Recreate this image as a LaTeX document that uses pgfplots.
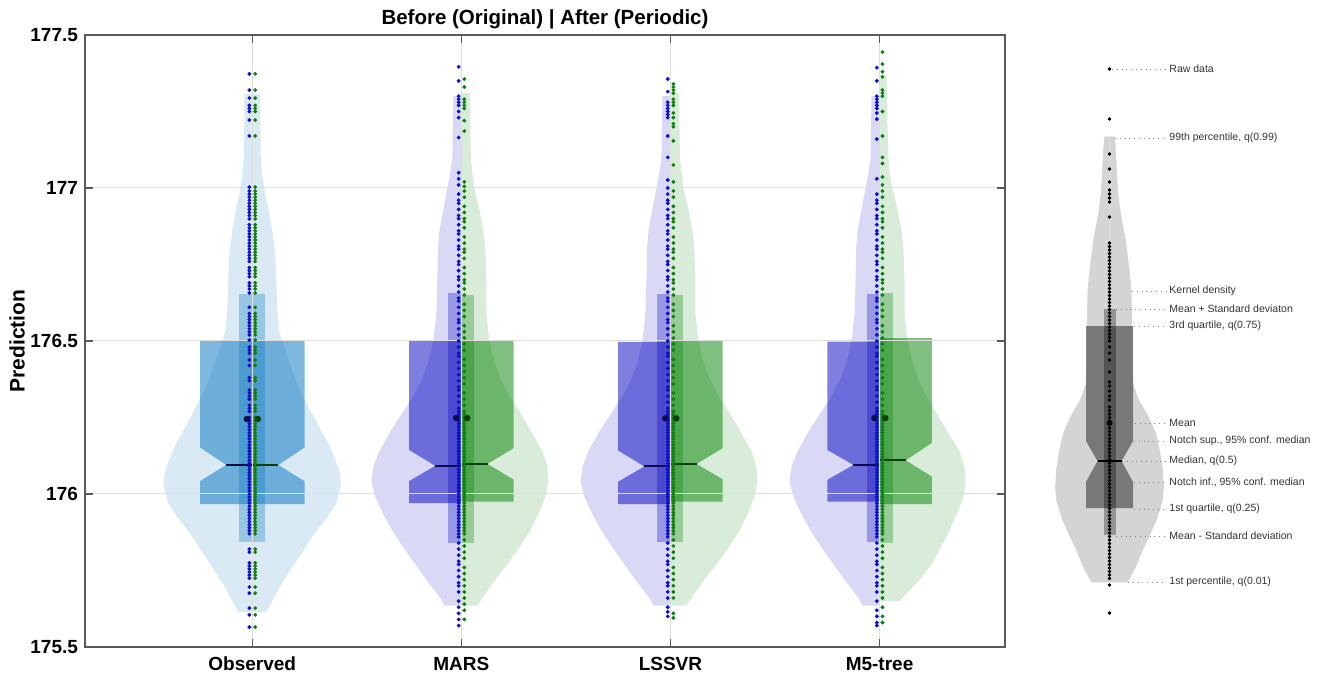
\documentclass[border=0pt]{standalone}
\usepackage{fontspec}
\setmainfont{Liberation Sans}
\usepackage{pgfplots}
\usepackage{pgfplotstable}
\pgfplotsset{compat=1.18}
\definecolor{mblue}{rgb}{0,0.447,0.741}
\definecolor{vblue}{rgb}{0,0,0.75}
\definecolor{vgreen}{rgb}{0,0.5,0}
\definecolor{dblue}{rgb}{0.05,0.05,0.8}
\definecolor{dgreen}{rgb}{0.05,0.5,0.05}
\definecolor{mnblue}{rgb}{0.05,0.05,0.3}
\definecolor{mngreen}{rgb}{0.05,0.25,0.05}

% ---------- violin profiles (y, half width in px) ----------
\pgfplotstableread[row sep=\\]{
y w\\
175.614 0\\ 175.614 14\\ 175.65 20\\ 175.70 28\\ 175.76 40\\ 175.82 52\\ 175.87 62\\ 175.92 74\\
175.97 84\\ 176.03 89\\ 176.08 87\\ 176.12 82\\ 176.16 77\\ 176.20 70\\ 176.25 62\\ 176.31 52\\
176.36 45\\ 176.42 38\\ 176.48 32\\ 176.53 27\\ 176.60 25\\ 176.70 24\\ 176.78 23\\ 176.86 20\\
176.92 17\\ 176.98 13\\ 177.04 10\\ 177.10 8.5\\ 177.20 8\\ 177.307 8\\ 177.307 0\\
}\obsV
\pgfplotstableread[row sep=\\]{
y w\\
175.635 0\\ 175.635 17\\ 175.66 21\\ 175.72 35\\ 175.77 46\\ 175.83 59\\ 175.88 69\\ 175.94 79\\
175.99 86\\ 176.04 90\\ 176.09 88\\ 176.14 82\\ 176.21 70\\ 176.27 58\\ 176.32 48\\ 176.37 40\\
176.43 33\\ 176.50 28\\ 176.59 25\\ 176.70 24\\ 176.80 23.5\\ 176.86 22\\ 176.93 18\\ 177.00 14\\
177.05 11\\ 177.10 9\\ 177.20 8.5\\ 177.30 8\\ 177.30 0\\
}\blueV
\pgfplotstableread[row sep=\\]{
y w\\
175.635 0\\ 175.635 16\\ 175.66 21\\ 175.72 34\\ 175.77 46\\ 175.83 59\\ 175.88 69\\ 175.94 78\\
175.99 84\\ 176.04 87\\ 176.09 86\\ 176.14 81\\ 176.21 69\\ 176.27 58\\ 176.32 48\\ 176.37 40\\
176.43 33\\ 176.50 28\\ 176.59 25\\ 176.70 25\\ 176.80 24\\ 176.86 22\\ 176.93 18\\ 177.00 13\\
177.05 11\\ 177.10 9.5\\ 177.20 9\\ 177.31 9\\ 177.31 0\\
}\greenV
\pgfplotstableread[row sep=\\]{
y w\\
175.65 0\\ 175.65 20\\ 175.72 40\\ 175.77 52\\ 175.83 62\\ 175.88 70\\ 175.94 78\\
175.99 84\\ 176.04 86\\ 176.09 85\\ 176.14 80\\ 176.21 67\\ 176.27 56\\ 176.32 47\\ 176.37 39\\
176.43 33\\ 176.50 28\\ 176.59 25\\ 176.70 25\\ 176.80 24\\ 176.86 22\\ 176.93 18\\ 177.00 13\\
177.05 10\\ 177.10 9\\ 177.20 8\\ 177.37 7\\ 177.37 0\\
}\greenVm
% ---------- raw data ----------
\pgfplotstableread[row sep=\\]{
y\\ 177.373\\ 177.320\\ 177.294\\ 177.270\\ 177.260\\ 177.250\\ 177.222\\ 177.170\\
177.003\\ 176.99\\ 176.98\\ 176.97\\ 176.96\\ 176.95\\ 176.94\\ 176.93\\ 176.92\\ 176.91\\ 176.899\\
176.88\\ 176.87\\ 176.86\\ 176.85\\ 176.84\\ 176.83\\ 176.82\\ 176.81\\ 176.80\\ 176.79\\ 176.78\\ 176.77\\ 176.76\\
176.74\\ 176.73\\ 176.72\\ 176.71\\ 176.69\\ 176.68\\ 176.67\\ 176.657\\
176.61\\ 176.59\\ 176.58\\ 176.57\\ 176.56\\ 176.55\\ 176.54\\ 176.53\\ 176.52\\ 176.503\\ 176.48\\ 176.47\\
176.46\\ 176.438\\ 176.42\\ 176.38\\ 176.37\\ 176.34\\ 176.33\\ 176.32\\ 176.31\\ 176.29\\ 176.28\\ 176.27\\
176.25\\ 176.24\\ 176.23\\ 176.22\\ 176.21\\ 176.20\\ 176.19\\ 176.18\\ 176.17\\ 176.16\\ 176.15\\ 176.14\\
176.13\\ 176.12\\ 176.11\\ 176.10\\ 176.09\\ 176.08\\ 176.07\\ 176.06\\ 176.05\\ 176.04\\ 176.03\\ 176.02\\
176.01\\ 176.00\\ 175.99\\ 175.98\\ 175.97\\ 175.96\\ 175.95\\ 175.94\\ 175.93\\ 175.92\\ 175.91\\ 175.90\\
175.89\\ 175.88\\ 175.87\\ 175.82\\ 175.81\\ 175.775\\ 175.765\\ 175.755\\ 175.745\\ 175.735\\ 175.725\\
175.696\\ 175.676\\ 175.627\\ 175.605\\ 175.565\\
}\obsD
\pgfplotstableread[row sep=\\]{
y\\ 176.98\\ 176.96\\ 176.95\\ 176.93\\ 176.91\\ 176.90\\ 176.88\\ 176.86\\ 176.85\\ 176.83\\ 176.81\\ 176.80\\
176.78\\ 176.76\\ 176.75\\ 176.73\\ 176.71\\ 176.70\\ 176.68\\ 176.66\\ 176.64\\ 176.63\\ 176.61\\ 176.59\\
176.57\\ 176.56\\ 176.54\\ 176.52\\ 176.50\\ 176.48\\ 176.46\\ 176.45\\ 176.43\\ 176.41\\ 176.39\\ 176.37\\
176.35\\ 176.34\\ 176.32\\ 176.30\\ 176.28\\ 176.27\\ 176.26\\
176.25\\ 176.24\\ 176.23\\ 176.22\\ 176.21\\ 176.20\\ 176.19\\ 176.18\\ 176.17\\ 176.16\\ 176.15\\ 176.14\\
176.13\\ 176.12\\ 176.11\\ 176.10\\ 176.09\\ 176.08\\ 176.07\\ 176.06\\ 176.05\\ 176.04\\ 176.03\\ 176.02\\
176.01\\ 176.00\\ 175.99\\ 175.98\\ 175.97\\ 175.96\\ 175.95\\ 175.94\\ 175.93\\ 175.92\\ 175.91\\ 175.90\\
175.89\\ 175.88\\ 175.87\\ 175.86\\ 175.84\\ 175.82\\ 175.80\\ 175.78\\ 175.77\\ 175.75\\ 175.73\\ 175.71\\
175.70\\ 175.68\\
}\blueB
\pgfplotstableread[row sep=\\]{
y\\ 176.99\\ 176.97\\ 176.94\\ 176.92\\ 176.90\\ 176.89\\ 176.87\\ 176.84\\ 176.82\\ 176.80\\ 176.79\\ 176.77\\
176.74\\ 176.72\\ 176.70\\ 176.69\\ 176.67\\ 176.65\\ 176.62\\ 176.60\\ 176.58\\ 176.55\\ 176.53\\ 176.51\\
176.49\\ 176.47\\ 176.44\\ 176.42\\ 176.40\\ 176.38\\ 176.36\\ 176.33\\ 176.31\\ 176.29\\ 176.27\\
176.26\\ 176.25\\ 176.24\\ 176.23\\ 176.22\\ 176.21\\ 176.20\\ 176.19\\ 176.18\\ 176.17\\ 176.16\\ 176.15\\
176.14\\ 176.13\\ 176.12\\ 176.11\\ 176.10\\ 176.09\\ 176.08\\ 176.07\\ 176.06\\ 176.05\\ 176.04\\ 176.03\\
176.02\\ 176.01\\ 176.00\\ 175.99\\ 175.98\\ 175.97\\ 175.96\\ 175.95\\ 175.94\\ 175.93\\ 175.92\\ 175.91\\
175.90\\ 175.89\\ 175.88\\ 175.87\\ 175.85\\ 175.83\\ 175.81\\ 175.79\\ 175.76\\ 175.74\\ 175.72\\ 175.70\\
175.68\\
}\greenB
\pgfplotstableread[row sep=\\]{y\\ 177.396\\ 177.35\\ 177.30\\ 177.29\\ 177.28\\ 177.27\\ 177.25\\ 177.23\\ 177.165\\ 177.05\\ 177.03\\ 177.01\\ 175.65\\ 175.63\\ 175.61\\ 175.59\\ 175.57\\}\marsB
\pgfplotstableread[row sep=\\]{y\\ 177.356\\ 177.33\\ 177.29\\ 177.28\\ 177.27\\ 177.26\\ 177.22\\ 177.186\\ 177.02\\ 177.005\\ 175.66\\ 175.64\\ 175.62\\ 175.59\\}\marsG
\pgfplotstableread[row sep=\\]{y\\ 177.356\\ 177.315\\ 177.28\\ 177.27\\ 177.26\\ 177.25\\ 177.24\\ 177.23\\ 177.17\\ 177.10\\ 177.026\\ 177.0\\ 175.66\\ 175.63\\ 175.615\\ 175.60\\}\lssB
\pgfplotstableread[row sep=\\]{y\\ 177.34\\ 177.33\\ 177.32\\ 177.31\\ 177.29\\ 177.28\\ 177.27\\ 177.245\\ 177.23\\ 177.21\\ 177.20\\ 177.154\\ 177.075\\ 177.02\\ 175.66\\ 175.61\\ 175.595\\}\lssG
\pgfplotstableread[row sep=\\]{y\\ 177.393\\ 177.35\\ 177.30\\ 177.29\\ 177.28\\ 177.27\\ 177.26\\ 177.245\\ 177.225\\ 177.16\\ 177.03\\ 175.65\\ 175.62\\ 175.60\\ 175.58\\ 175.57\\}\mfB
\pgfplotstableread[row sep=\\]{y\\ 177.444\\ 177.405\\ 177.38\\ 177.363\\ 177.32\\ 177.31\\ 177.30\\ 177.25\\ 177.17\\ 177.10\\ 177.08\\ 177.036\\ 177.01\\ 175.66\\ 175.63\\ 175.60\\ 175.58\\}\mfG
% ---------- legend panel (pixel units) ----------
\pgfplotstableread[row sep=\\]{
y w\\
582 0\\ 582 18\\ 567 26\\ 550 33\\ 533 41\\ 517 48\\ 500 53\\ 487 54\\ 470 53\\ 450 50\\ 433 46\\ 417 39\\
400 29\\ 383 23\\ 360 22.5\\ 330 22.5\\ 307 22\\ 290 21.5\\ 273 20\\ 257 18\\ 240 16\\ 225 13\\ 207 10\\
190 8\\ 170 7\\ 150 6\\ 137 5\\ 137 0\\
}\panV
\pgfplotstableread[row sep=\\]{
y\\ 69\\ 119\\ 154\\ 169\\ 182\\ 190\\ 194\\ 198\\ 202\\ 217\\ 243\\ 246.5\\ 250\\ 253.5\\ 257\\ 260.5\\ 264\\
267.5\\ 271\\ 274.5\\ 278\\ 281.5\\ 285\\ 288.5\\ 292\\ 295.5\\ 299\\ 302.5\\ 306\\ 309.5\\ 313\\ 316.5\\ 320\\
323.5\\ 327\\ 330.5\\ 334\\ 337.5\\ 341\\ 347\\ 353\\ 360\\ 372\\ 382\\ 386\\ 391\\ 396\\ 400\\ 407\\ 410.5\\
414\\ 417.5\\ 421\\ 424.5\\ 428\\ 431.5\\ 435\\ 438.5\\ 442\\ 445.5\\ 449\\ 452.5\\ 456\\ 459.5\\ 463\\ 466.5\\
470\\ 473.5\\ 477\\ 480.5\\ 484\\ 487.5\\ 491\\ 494.5\\ 498\\ 501.5\\ 505\\ 508.5\\ 512\\ 515.5\\ 519\\ 522.5\\
526\\ 529.5\\ 533\\ 536.5\\ 540\\ 543.5\\ 547\\ 550.5\\ 554\\ 557.5\\ 561\\ 564.5\\ 568\\ 571.5\\ 575\\ 578.5\\
585\\ 613\\
}\panD

\begin{document}
\begin{tikzpicture}
\path[use as bounding box] (-42.5pt,-15.5pt) rectangle (617.5pt,323.5pt);
\begin{axis}[
  at={(0pt,0pt)}, anchor=south west,
  scale only axis, width=460pt, height=306pt,
  xmin=0.2, xmax=4.6, ymin=175.5, ymax=177.5,
  xtick={1,2,3,4}, xticklabels={Observed,MARS,LSSVR,M5-tree},
  ytick={175.5,176,176.5,177,177.5},
  grid=major, major grid style={black!13, line width=0.5pt},
  axis on top,
  axis line style={black!65, line width=0.6pt},
  tick style={black!65, line width=0.6pt},
  major tick length=4pt, tick align=inside,
  /pgf/number format/assume math mode=true,
  ticklabel style={font=\bfseries\fontsize{9.5}{11}\selectfont},
  xticklabel style={anchor=base, yshift=-12pt},
  every axis title shift=0pt,
  title={Before (Original) | After (Periodic)},
  title style={at={(0.5,1)}, anchor=base, yshift=5pt, inner sep=0pt, font=\bfseries\fontsize{10.25}{12}\selectfont},
  ylabel={Prediction},
  ylabel style={at={(axis description cs:-0.0739,0.5)}, anchor=center, font=\bfseries\fontsize{10.5}{12}\selectfont},
]
% violins
\addplot[draw=none, fill=mblue, fill opacity=0.15] table[x expr={1-\thisrow{w}/209.1}, y=y] {\obsV};
\addplot[draw=none, fill=mblue, fill opacity=0.15] table[x expr={1+\thisrow{w}/209.1}, y=y] {\obsV};
\addplot[draw=none, fill=vblue, fill opacity=0.15] table[x expr={2-\thisrow{w}/209.1}, y=y] {\blueV};
\addplot[draw=none, fill=vgreen, fill opacity=0.15] table[x expr={2+\thisrow{w}/209.1}, y=y] {\greenV};
\addplot[draw=none, fill=vblue, fill opacity=0.15] table[x expr={3-\thisrow{w}/209.1}, y=y] {\blueV};
\addplot[draw=none, fill=vgreen, fill opacity=0.15] table[x expr={3+\thisrow{w}/209.1}, y=y] {\greenV};
\addplot[draw=none, fill=vblue, fill opacity=0.15] table[x expr={4-\thisrow{w}/209.1}, y=y] {\blueV};
\addplot[draw=none, fill=vgreen, fill opacity=0.15] table[x expr={4+\thisrow{w}/209.1}, y=y] {\greenVm};
% notched boxes
\addplot[draw=none, fill=mblue, fill opacity=0.5] coordinates {(0.75,175.967) (1.25,175.967) (1.25,176.042) (1.125,176.095) (1.25,176.152) (1.25,176.503) (0.75,176.503) (0.75,176.152) (0.875,176.095) (0.75,176.042)};
\addplot[draw=none, fill=vblue, fill opacity=0.5] coordinates {(2,175.970) (1.75,175.970) (1.75,176.042) (1.875,176.092) (1.75,176.144) (1.75,176.503) (2,176.503)};
\addplot[draw=none, fill=vgreen, fill opacity=0.5] coordinates {(2,175.975) (2.25,175.975) (2.25,176.047) (2.125,176.098) (2.25,176.150) (2.25,176.503) (2,176.503)};
\addplot[draw=none, fill=vblue, fill opacity=0.5] coordinates {(3,175.967) (2.75,175.967) (2.75,176.040) (2.875,176.090) (2.75,176.142) (2.75,176.497) (3,176.497)};
\addplot[draw=none, fill=vgreen, fill opacity=0.5] coordinates {(3,175.975) (3.25,175.975) (3.25,176.048) (3.125,176.098) (3.25,176.150) (3.25,176.503) (3,176.503)};
\addplot[draw=none, fill=vblue, fill opacity=0.5] coordinates {(4,175.975) (3.75,175.975) (3.75,176.046) (3.875,176.095) (3.75,176.144) (3.75,176.498) (4,176.498)};
\addplot[draw=none, fill=vgreen, fill opacity=0.5] coordinates {(4,175.967) (4.25,175.967) (4.25,176.057) (4.125,176.110) (4.25,176.167) (4.25,176.509) (4,176.509)};
% mean +/- sd bars
\addplot[draw=none, fill=mblue, fill opacity=0.3] coordinates {(0.938,175.842) (1.062,175.842) (1.062,176.652) (0.938,176.652)};
\addplot[draw=none, fill=vblue, fill opacity=0.3] coordinates {(1.938,175.840) (2,175.840) (2,176.657) (1.938,176.657)};
\addplot[draw=none, fill=vgreen, fill opacity=0.3] coordinates {(2,175.840) (2.062,175.840) (2.062,176.650) (2,176.650)};
\addplot[draw=none, fill=vblue, fill opacity=0.3] coordinates {(2.938,175.843) (3,175.843) (3,176.655) (2.938,176.655)};
\addplot[draw=none, fill=vgreen, fill opacity=0.3] coordinates {(3,175.843) (3.062,175.843) (3.062,176.650) (3,176.650)};
\addplot[draw=none, fill=vblue, fill opacity=0.3] coordinates {(3.938,175.844) (4,175.844) (4,176.654) (3.938,176.654)};
\addplot[draw=none, fill=vgreen, fill opacity=0.3] coordinates {(4,175.840) (4.062,175.840) (4.062,176.656) (4,176.656)};
% raw data
\pgfplotsset{dotb/.style={only marks, mark=*, mark size=0.75pt, dblue}, dotg/.style={only marks, mark=*, mark size=0.75pt, dgreen}}
\addplot[dotb] table[x expr=0.986, y=y] {\obsD};
\addplot[dotg] table[x expr=1.014, y=y] {\obsD};
\addplot[dotb] table[x expr=1.987, y=y] {\blueB};
\addplot[dotb] table[x expr=1.987, y=y] {\marsB};
\addplot[dotg] table[x expr=2.014, y=y] {\greenB};
\addplot[dotg] table[x expr=2.014, y=y] {\marsG};
\addplot[dotb] table[x expr=2.987, y=y] {\blueB};
\addplot[dotb] table[x expr=2.987, y=y] {\lssB};
\addplot[dotg] table[x expr=3.014, y=y] {\greenB};
\addplot[dotg] table[x expr=3.014, y=y] {\lssG};
\addplot[dotb] table[x expr=3.987, y=y] {\blueB};
\addplot[dotb] table[x expr=3.987, y=y] {\mfB};
\addplot[dotg] table[x expr=4.014, y=y] {\greenB};
\addplot[dotg] table[x expr=4.014, y=y] {\mfG};
% medians
\addplot[mnblue, line width=1pt] coordinates {(0.875,176.095) (1,176.095)};
\addplot[mngreen, line width=1pt] coordinates {(1,176.095) (1.125,176.095)};
\addplot[mnblue, line width=1pt] coordinates {(1.875,176.092) (2,176.092)};
\addplot[mngreen, line width=1pt] coordinates {(2,176.098) (2.125,176.098)};
\addplot[mnblue, line width=1pt] coordinates {(2.875,176.090) (3,176.090)};
\addplot[mngreen, line width=1pt] coordinates {(3,176.098) (3.125,176.098)};
\addplot[mnblue, line width=1pt] coordinates {(3.875,176.095) (4,176.095)};
\addplot[mngreen, line width=1pt] coordinates {(4,176.110) (4.125,176.110)};
% means
\addplot[only marks, mark=*, mark size=1.4pt, mnblue] coordinates {(0.974,176.245) (1.975,176.248) (2.975,176.247) (3.975,176.248)};
\addplot[only marks, mark=*, mark size=1.4pt, mngreen] coordinates {(1.027,176.245) (2.028,176.248) (3.028,176.247) (4.028,176.248)};
\end{axis}

\begin{axis}[
  at={(467.5pt,0pt)}, anchor=south west,
  scale only axis, width=150pt, height=306pt,
  xmin=1020, xmax=1320, ymin=35, ymax=647, y dir=reverse,
  hide axis, clip=false,
]
\addplot[draw=black!17, line width=0.3pt, fill=black!17] table[x expr={1109.5-\thisrow{w}}, y=y] {\panV};
\addplot[draw=black!17, line width=0.3pt, fill=black!17] table[x expr={1109.5+\thisrow{w}}, y=y] {\panV};
\addplot[draw=none, fill=black, fill opacity=0.43] coordinates {(1086,508) (1133,508) (1133,482) (1121.5,461) (1133,441) (1133,326) (1086,326) (1086,441) (1097.5,461) (1086,482)};
\addplot[draw=none, fill=black, fill opacity=0.3] coordinates {(1103.5,309) (1115.5,309) (1115.5,535) (1103.5,535)};
\addplot[only marks, mark=*, mark size=0.65pt, black] table[x expr=1109.5, y=y] {\panD};
\addplot[black, line width=0.8pt] coordinates {(1097.5,461) (1121.5,461)};
\addplot[only marks, mark=*, mark size=1.2pt, black] coordinates {(1109.5,423)};
\begin{scope}[every node/.style={anchor=west, inner sep=0pt, font=\fontsize{5.25}{6}\selectfont, text=black!80}]
\draw[dotted, black!50, line width=0.4pt] (axis cs:1112,69) -- (axis cs:1166,69);
\node at (axis cs:1169,69) {Raw data};
\draw[dotted, black!50, line width=0.4pt] (axis cs:1115,138) -- (axis cs:1166,138);
\node at (axis cs:1169,138) {99th percentile, q(0.99)};
\draw[dotted, black!50, line width=0.4pt] (axis cs:1132,291) -- (axis cs:1166,291);
\node at (axis cs:1169,291) {Kernel density};
\draw[dotted, black!50, line width=0.4pt] (axis cs:1116,309) -- (axis cs:1166,309);
\node at (axis cs:1169,309) {Mean + Standard deviaton};
\draw[dotted, black!50, line width=0.4pt] (axis cs:1134,326) -- (axis cs:1166,326);
\node at (axis cs:1169,326) {3rd quartile, q(0.75)};
\draw[dotted, black!50, line width=0.4pt] (axis cs:1111,423) -- (axis cs:1166,423);
\node at (axis cs:1169,423) {Mean};
\draw[dotted, black!50, line width=0.4pt] (axis cs:1134,441) -- (axis cs:1166,441);
\node at (axis cs:1169,441) {Notch sup., 95\% conf. median};
\draw[dotted, black!50, line width=0.4pt] (axis cs:1122,461) -- (axis cs:1166,461);
\node at (axis cs:1169,461) {Median, q(0.5)};
\draw[dotted, black!50, line width=0.4pt] (axis cs:1134,482) -- (axis cs:1166,482);
\node at (axis cs:1169,482) {Notch inf., 95\% conf. median};
\draw[dotted, black!50, line width=0.4pt] (axis cs:1134,509) -- (axis cs:1166,509);
\node at (axis cs:1169,509) {1st quartile, q(0.25)};
\draw[dotted, black!50, line width=0.4pt] (axis cs:1116,536) -- (axis cs:1166,536);
\node at (axis cs:1169,536) {Mean - Standard deviation};
\draw[dotted, black!50, line width=0.4pt] (axis cs:1128,582) -- (axis cs:1166,582);
\node at (axis cs:1169,582) {1st percentile, q(0.01)};
\end{scope}
\end{axis}
\end{tikzpicture}
\end{document}
